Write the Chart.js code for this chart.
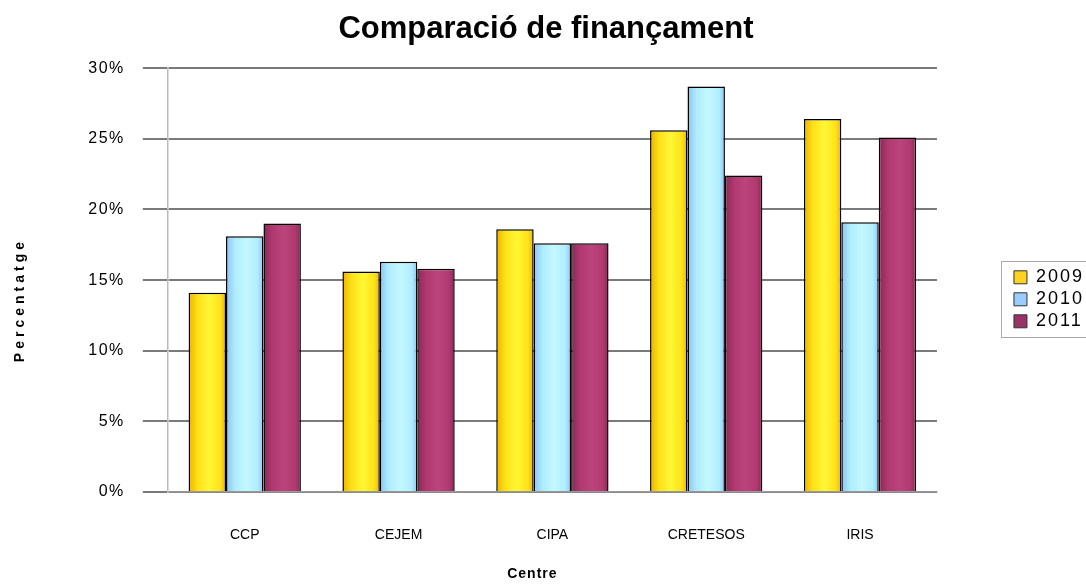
<!DOCTYPE html>
<html>
<head>
<meta charset="utf-8">
<script src="https://cdn.jsdelivr.net/npm/chart.js@4/dist/chart.umd.min.js"></script>
<style>
html,body{margin:0;padding:0;background:#fff;}
#wrap{width:1086px;height:585px;position:relative;}
</style>
</head>
<body>
<div id="wrap"><canvas id="c" width="1086" height="585"></canvas></div>
<script>
const categories = ["CCP", "CEJEM", "CIPA", "CRETESOS", "IRIS"];
const seriesNames = ["2009", "2010", "2011"];
const values2009 = [14.1, 15.6, 18.6, 25.6, 26.4];
const values2010 = [18.1, 16.3, 17.6, 28.7, 19.1];
const values2011 = [19.0, 15.8, 17.6, 22.4, 25.1];
const yTicks = [0, 5, 10, 15, 20, 25, 30];

const shades = [
  {dark:"#E9B300", base:"#FFE21A", light:"#FFF733"},
  {dark:"#8CC3F3", base:"#B0EDFF", light:"#C4F8FF"},
  {dark:"#8A2857", base:"#B0396F", light:"#BC447D"}
];
const legendColors = ["#FFD21E", "#99CCFF", "#993366"];

function withSpacing(obj, method, spacing, dx, dy) {
  if (!obj || obj["_ls_" + method]) return;
  const orig = obj[method].bind(obj);
  obj[method] = function (...args) {
    const c = this.ctx;
    c.save();
    c.letterSpacing = spacing;
    if (dx || dy) c.translate(dx || 0, dy || 0);
    const r = orig(...args);
    c.restore();
    return r;
  };
  obj["_ls_" + method] = true;
}

const stylePlugin = {
  id: "style",
  afterLayout(chart) {
    withSpacing(chart.scales.y, "drawTitle", "4px", 0, 20);
    withSpacing(chart.scales.y, "drawLabels", "1.5px", 0, 0);
    withSpacing(chart.scales.x, "drawTitle", "1px", -20, 0);
    withSpacing(chart.legend, "draw", "2px", 0, 0);
  },
  beforeDatasetsDraw(chart) {
    const ctx = chart.ctx;
    chart.data.datasets.forEach((ds, di) => {
      const meta = chart.getDatasetMeta(di);
      const s = shades[di];
      meta.data.forEach(el => {
        const x0 = el.x - el.width / 2, x1 = el.x + el.width / 2;
        const g = ctx.createLinearGradient(x0, 0, x1, 0);
        g.addColorStop(0, s.dark);
        g.addColorStop(0.25, s.base);
        g.addColorStop(0.55, s.light);
        g.addColorStop(0.85, s.base);
        g.addColorStop(1, s.dark);
        el.options = Object.assign({}, el.options, { backgroundColor: g });
      });
    });
  },
  afterDraw(chart) {
    const boxes = chart.legend.legendHitBoxes;
    if (!boxes || !boxes.length) return;
    let t = Infinity, b = -Infinity, l = Infinity;
    boxes.forEach(h => { t = Math.min(t, h.top); b = Math.max(b, h.top + h.height); l = Math.min(l, h.left); });
    const ctx = chart.ctx;
    ctx.save();
    ctx.strokeStyle = "#a8a8a8";
    ctx.lineWidth = 1;
    const x0 = Math.round(l - 13) + 0.5, y0 = Math.round(t - 7) + 0.5;
    ctx.strokeRect(x0, y0, chart.width - x0 + 2, Math.round(b - t + 14));
    ctx.restore();
  }
};

const datasetsValues = [values2009, values2010, values2011];
new Chart(document.getElementById("c"), {
  type: "bar",
  data: {
    labels: categories,
    datasets: seriesNames.map((n, i) => ({
      label: n,
      data: datasetsValues[i],
      backgroundColor: legendColors[i],
      borderColor: "#000",
      borderWidth: 1.5,
      categoryPercentage: 0.73,
      barPercentage: 1.0
    }))
  },
  options: {
    responsive: false,
    animation: false,
    layout: { padding: { left: 6, right: 0, top: 0, bottom: 2 } },
    plugins: {
      title: {
        display: true,
        text: "Comparació de finançament",
        font: { family: "Liberation Sans, Arial", size: 31, weight: "bold" },
        color: "#000",
        padding: { top: 11, bottom: 20 }
      },
      legend: {
        position: "right",
        title: { display: true, text: "", padding: 0, font: { size: 13 } },
        labels: {
          generateLabels(chart) {
            return seriesNames.map((n, i) => ({
              text: n, fillStyle: legendColors[i], strokeStyle: "#333", lineWidth: 1,
              datasetIndex: i, fontColor: "#000"
            }));
          },
          boxWidth: 13, boxHeight: 13, padding: 4,
          font: { family: "Liberation Sans, Arial", size: 18 },
          color: "#000"
        }
      },
      tooltip: { enabled: false }
    },
    scales: {
      x: {
        grid: {
          display: true, drawTicks: false, offset: true, lineWidth: 1.5,
          color: c => (c.index === categories.length ? "#909090" : "rgba(0,0,0,0)")
        },
        border: { display: true, color: "#999", width: 1.5 },
        ticks: { color: "#000", font: { family: "Liberation Sans, Arial", size: 14 }, padding: 35 },
        title: {
          display: true, text: "Centre", color: "#000",
          font: { family: "Liberation Sans, Arial", size: 14, weight: "bold" },
          padding: { top: -12.6, bottom: 0 }
        }
      },
      y: {
        min: 0, max: 30,
        afterBuildTicks(axis) { axis.ticks = yTicks.map(v => ({ value: v })); },
        grid: { color: "#7a7a7a", lineWidth: 2, drawTicks: true, tickLength: 25 },
        border: { display: true, color: "#bbb", width: 1.5 },
        ticks: {
          color: "#000", padding: 18,
          font: { family: "Liberation Sans, Arial", size: 16 },
          callback: v => v + "%"
        },
        title: {
          display: true, text: "Percentatge", color: "#000",
          font: { family: "Liberation Sans, Arial", size: 14, weight: "bold" },
          padding: { top: 6, bottom: 46 }
        }
      },
      yr: {
        position: "right",
        display: true,
        grid: { display: false, drawTicks: false },
        border: { display: false },
        ticks: { display: false },
        afterFit(axis) { axis.width = 73; }
      }
    }
  },
  plugins: [stylePlugin]
});
</script>
</body>
</html>
